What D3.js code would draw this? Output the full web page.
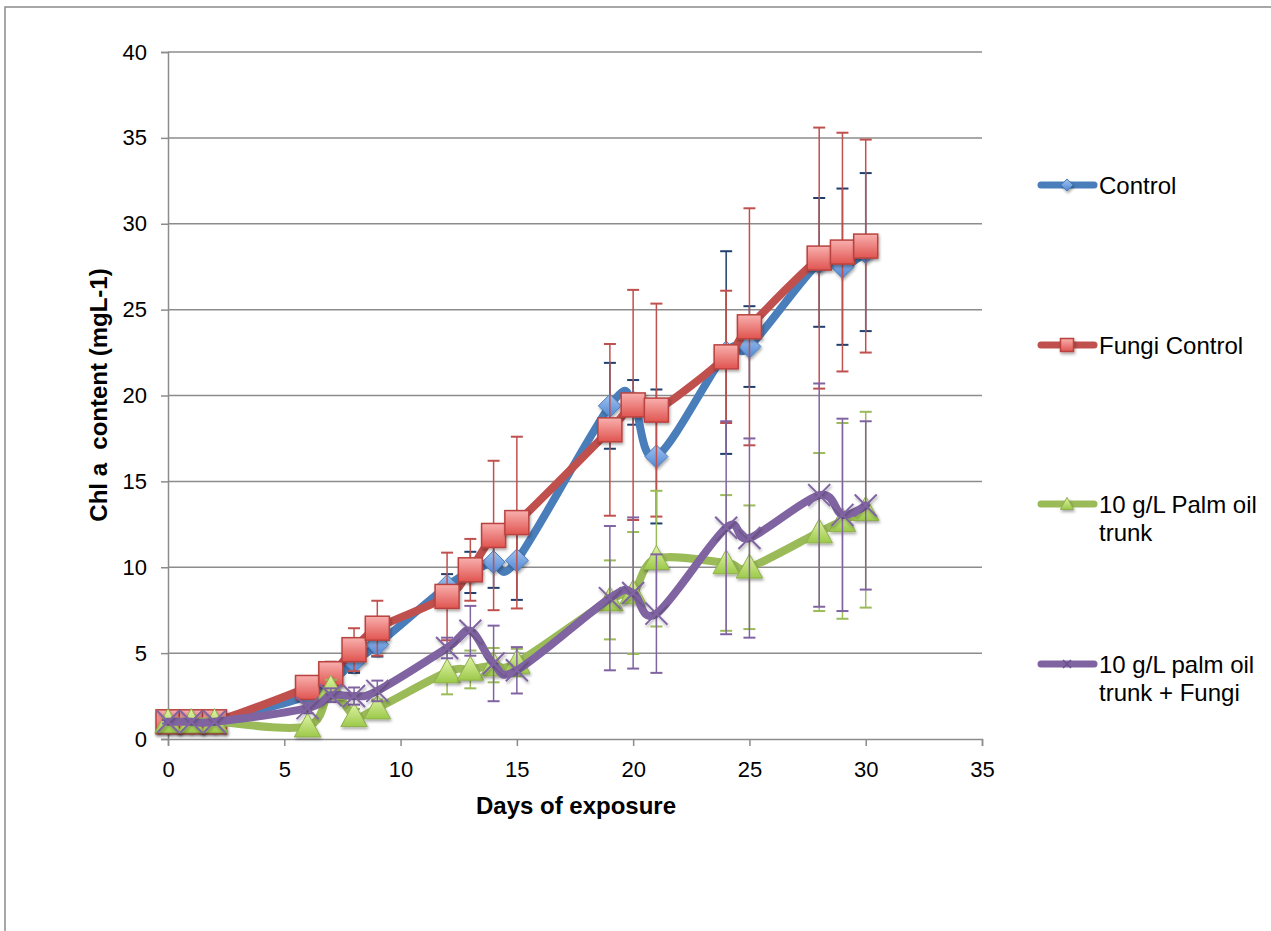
<!DOCTYPE html>
<html>
<head>
<meta charset="utf-8">
<script src="https://cdn.jsdelivr.net/npm/d3@7"></script>
<style>
body{margin:0;background:#fff;}
text{font-family:"Liberation Sans",Arial,sans-serif;}
</style>
</head>
<body>
<div id="chart"></div>
<script>
const days = [0,1,2,6,7,8,9,12,13,14,15,19,20,21,24,25,28,29,30]
const control = [1,1,1,2.5,3.3,4.5,5.5,8.9,9.7,10.3,10.4,19.4,19.6,16.45,22.5,22.85,27.75,27.5,28.35]
const controlErr = [0.1,0.1,0.1,0.3,0.4,0.65,0.7,0.7,1.2,1.5,2.3,2.5,1.3,3.9,5.9,2.35,3.75,4.55,4.6]
const fungiControl = [1,1,1,3.0,3.8,5.2,6.45,8.3,9.85,11.85,12.6,18.0,19.45,19.15,22.25,24.0,28.0,28.35,28.7]
const fungiControlErr = [0.1,0.1,0.1,0.3,0.7,1.25,1.6,2.55,1.8,4.35,5.0,5.0,6.7,6.2,3.85,6.9,7.6,6.95,6.2]
const palm = [1,1,1,0.75,2.95,1.35,1.8,3.9,4.05,4.3,4.45,8.1,8.5,10.5,10.25,10.0,12.05,12.7,13.35]
const palmErr = [0.1,0.1,0.1,0.2,0.5,0.4,0.5,1.3,1.1,1.0,0.8,2.3,3.55,3.95,3.95,3.6,4.6,5.7,5.7]
const palmFungi = [1,1,1,1.8,2.55,2.5,2.8,5.3,6.3,4.4,4.0,8.2,8.5,7.3,12.3,11.7,14.2,13.05,13.6]
const palmFungiErr = [0.1,0.1,0.1,0.3,0.4,0.5,0.6,0.6,1.45,2.2,1.35,4.2,4.4,3.45,6.2,5.8,6.5,5.6,4.9]

const seriesNames = ["Control","Fungi Control","10 g/L Palm oil trunk","10 g/L palm oil trunk + Fungi"]
const xTicks = [0,5,10,15,20,25,30,35]
const yTicks = [0,5,10,15,20,25,30,35,40]

const canvas = {width:1271,height:931,margin:{top:52,right:289,bottom:192,left:168}}

const svg = d3.select("#chart").append("svg").attr("width",canvas.width).attr("height",canvas.height)

const defs = svg.append("defs")
function grad(id,c1,c2){
  const g = defs.append("linearGradient").attr("id",id).attr("x1",0).attr("y1",0).attr("x2",0).attr("y2",1)
  g.append("stop").attr("offset","0%").attr("stop-color",c1)
  g.append("stop").attr("offset","100%").attr("stop-color",c2)
}
grad("gBlue","#a3c4ef","#4f86d4")
grad("gRed","#f8b0ae","#e05450")
grad("gGreen","#e2f5a8","#9cc94a")
const sh = defs.append("filter").attr("id","shadow").attr("x","-50%").attr("y","-50%").attr("width","200%").attr("height","200%")
sh.append("feDropShadow").attr("dx",1).attr("dy",2).attr("stdDeviation",1.5).attr("flood-color","#000").attr("flood-opacity",0.35)

// outer frame
svg.append("path").attr("d","M5,931 L5,7 L1271,7").attr("fill","none").attr("stroke","#8a8a8a").attr("stroke-width",1.5)

const xScale = d3.scaleLinear().domain([0,35]).range([canvas.margin.left,canvas.width-canvas.margin.right])
const yScale = d3.scaleLinear().domain([0,40]).range([canvas.height-canvas.margin.bottom,canvas.margin.top])

// gridlines
svg.append("g").selectAll("line").data(yTicks.slice(1)).enter().append("line")
  .attr("x1",xScale(0)).attr("x2",xScale(35)).attr("y1",d=>yScale(d)).attr("y2",d=>yScale(d))
  .attr("stroke","#8c8c8c").attr("stroke-width",1.5)

// axes
svg.append("g").attr("transform",`translate(${xScale(0)},0)`)
  .call(d3.axisLeft(yScale).tickValues(yTicks).tickSize(7).tickPadding(14))
svg.append("g").attr("transform",`translate(0,${yScale(0)})`)
  .call(d3.axisBottom(xScale).tickValues(xTicks).tickSize(7).tickPadding(15))
svg.selectAll(".domain, .tick line").attr("stroke","#8c8c8c").attr("stroke-width",1.5)
svg.selectAll(".tick text").attr("font-size","22px").attr("fill","#000").style("font-family","'Liberation Sans',Arial,sans-serif")

svg.append("text").attr("x",576).attr("y",814).attr("text-anchor","middle")
  .attr("font-size","24px").attr("font-weight","bold").text("Days of exposure")
svg.append("text").attr("transform","translate(107,395) rotate(-90)").attr("text-anchor","middle")
  .attr("font-size","24px").attr("font-weight","bold").style("white-space","pre").text("Chl a  content (mgL-1)")

const series = [
  {name:seriesNames[0],vals:control,err:controlErr,line:"#4a7ebb",errColor:"#1f3f6e",marker:"diamond"},
  {name:seriesNames[1],vals:fungiControl,err:fungiControlErr,line:"#c0504d",errColor:"#c0504d",marker:"square"},
  {name:seriesNames[2],vals:palm,err:palmErr,line:"#9bbb59",errColor:"#9bbb59",marker:"triangle"},
  {name:seriesNames[3],vals:palmFungi,err:palmFungiErr,line:"#8064a2",errColor:"#8064a2",marker:"x"}
]

function drawMarker(g,type,x,y,s){
  if(type==="diamond"){
    g.append("path").attr("d",`M${x},${y-s*0.5} L${x+s*0.5},${y} L${x},${y+s*0.5} L${x-s*0.5},${y} Z`)
      .attr("fill","url(#gBlue)").attr("stroke","#4a7ebb").attr("stroke-width",1).attr("filter","url(#shadow)")
  } else if(type==="square"){
    g.append("rect").attr("x",x-s/2).attr("y",y-s/2).attr("width",s).attr("height",s)
      .attr("fill","url(#gRed)").attr("stroke","#b9433f").attr("stroke-width",1.5).attr("filter","url(#shadow)")
  } else if(type==="triangle"){
    g.append("path").attr("d",`M${x},${y-s*0.55} L${x+s*0.55},${y+s*0.45} L${x-s*0.55},${y+s*0.45} Z`)
      .attr("fill","url(#gGreen)").attr("stroke","#8fb04c").attr("stroke-width",1).attr("filter","url(#shadow)")
  } else {
    g.append("path").attr("d",`M${x-s/2},${y-s/2} L${x+s/2},${y+s/2} M${x-s/2},${y+s/2} L${x+s/2},${y-s/2}`)
      .attr("stroke","#8064a2").attr("stroke-width",2).attr("filter","url(#shadow)")
  }
}

const line = d3.line().x(d=>xScale(d[0])).y(d=>yScale(d[1])).curve(d3.curveCatmullRom.alpha(0))

const markerSize = {diamond:23,square:24,triangle:24,x:22}

series.forEach(s=>{
  const g = svg.append("g")
  // error bars
  days.forEach((d,i)=>{
    const x = xScale(d), lo = yScale(s.vals[i]-s.err[i]), hi = yScale(s.vals[i]+s.err[i])
    g.append("line").attr("x1",x).attr("x2",x).attr("y1",lo).attr("y2",hi).attr("stroke",s.errColor).attr("stroke-width",1.5)
    g.append("line").attr("x1",x-6).attr("x2",x+6).attr("y1",lo).attr("y2",lo).attr("stroke",s.errColor).attr("stroke-width",2)
    g.append("line").attr("x1",x-6).attr("x2",x+6).attr("y1",hi).attr("y2",hi).attr("stroke",s.errColor).attr("stroke-width",2)
  })
  g.append("path").datum(days.map((d,i)=>[d,s.vals[i]])).attr("fill","none").attr("stroke",s.line)
    .attr("stroke-width",8).attr("stroke-linejoin","round").attr("stroke-linecap","round").attr("d",line)
  days.forEach((d,i)=>drawMarker(g,s.marker,xScale(d),yScale(s.vals[i]),markerSize[s.marker]))
})

// legend
const legendY = [185,345,504,664]
series.forEach((s,i)=>{
  const y = legendY[i]
  const g = svg.append("g")
  g.append("line").attr("x1",1041).attr("x2",1094).attr("y1",y).attr("y2",y).attr("stroke",s.line)
    .attr("stroke-width",7).attr("stroke-linecap","round")
  if(s.marker==="x"){
    g.append("path").attr("d",`M1063,${y-4} L1071,${y+4} M1063,${y+4} L1071,${y-4}`).attr("stroke","#6a4f8e").attr("stroke-width",1.5)
  } else {
    drawMarker(g,s.marker,1067,y,s.marker==="square"?13:12)
  }
  const words = s.name==="10 g/L Palm oil trunk" ? ["10 g/L Palm oil","trunk"] :
    s.name==="10 g/L palm oil trunk + Fungi" ? ["10 g/L palm oil","trunk + Fungi"] : [s.name]
  words.forEach((w,j)=>{
    g.append("text").attr("x",1099).attr("y",y+8.5+j*28).attr("font-size","24px").text(w)
  })
})
</script>
</body>
</html>
